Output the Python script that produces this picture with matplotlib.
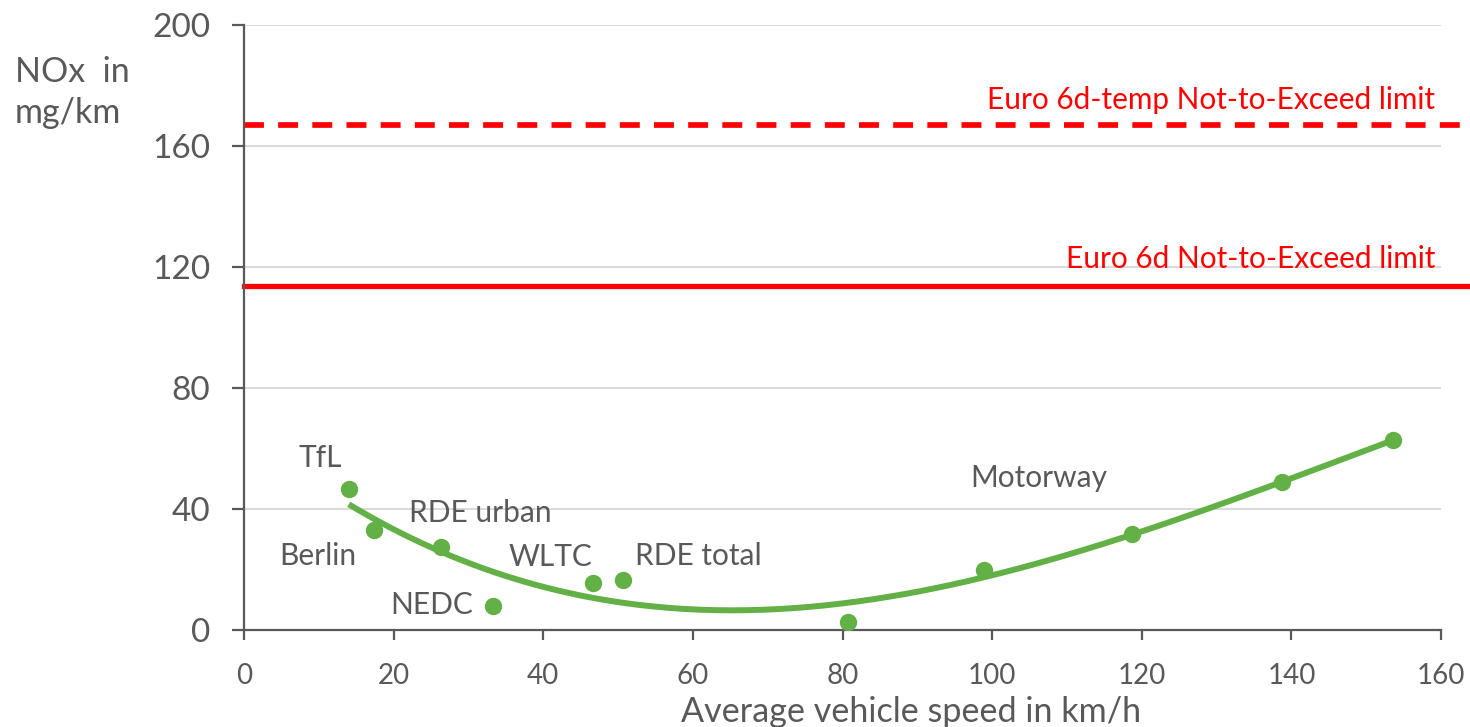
import matplotlib
matplotlib.use("Agg")
import matplotlib.pyplot as plt
import numpy as np

plt.rcParams['font.family'] = ['Lato', 'DejaVu Sans']

# measured cycles / trips: average speed (km/h) vs NOx (mg/km)
speed = [14.0, 17.4, 26.3, 33.3, 46.7, 50.7, 80.7, 98.9, 118.7, 138.8, 153.6]
nox = [46.6, 33.1, 27.4, 7.9, 15.5, 16.5, 2.6, 19.8, 31.7, 48.9, 62.8]

# named cycles
cycle_names = ['TfL', 'Berlin', 'RDE urban', 'NEDC', 'WLTC', 'RDE total', 'Motorway']

# regulatory limits
nte_temp = 167.0
nte_final = 113.8

x_ticks = [0, 20, 40, 60, 80, 100, 120, 140, 160]
y_ticks = [0, 40, 80, 120, 160, 200]

grey = '#595959'
green = '#62b046'
red = '#ff0000'

fig = plt.figure(figsize=(14.7, 7.27), dpi=100)
ax = fig.add_axes([0.166, 0.1334, 0.8143, 0.8322])
ax.set_xlim(0, 160)
ax.set_ylim(0, 200)

# gridlines
for yt in y_ticks[1:]:
    ax.axhline(yt, color='#d9d9d9', lw=1.4, zorder=0)

# limit lines run slightly past the end of the axis
ax.plot([0, 163.6], [nte_temp, nte_temp], color=red, lw=4.1, ls=(0, (3.5, 2.5)),
        clip_on=False, zorder=2)
ax.plot([0, 163.6], [nte_final, nte_final], color=red, lw=3.8, clip_on=False, zorder=2)
ax.text(159.2, nte_temp + 5.1, 'Euro 6d-temp Not-to-Exceed limit', color=red,
        fontsize=21.4, ha='right', va='baseline')
ax.text(159.2, nte_final + 5.8, 'Euro 6d Not-to-Exceed limit', color=red,
        fontsize=21.4, ha='right', va='baseline')

# polynomial trendline through the measurements
coef = np.polyfit(speed, nox, 3)
xs = np.linspace(min(speed), max(speed), 200)
ax.plot(xs, np.polyval(coef, xs), color=green, lw=4.3, solid_capstyle='butt', zorder=3)
ax.plot(speed, nox, 'o', color=green, ms=11.5, zorder=4)

label_pos = [(10.2, 57.0), (9.9, 24.5), (31.6, 38.8), (25.1, 8.3),
             (40.9, 24.1), (60.7, 24.5), (106.2, 50.2)]
for name, (tx, ty) in zip(cycle_names, label_pos):
    ax.text(tx, ty, name, color=grey, fontsize=21.5, ha='center', va='center')

# axes styling
for side in ['top', 'right']:
    ax.spines[side].set_visible(False)
for side in ['left', 'bottom']:
    ax.spines[side].set_color(grey)
    ax.spines[side].set_linewidth(1.6)
ax.set_xticks(x_ticks)
ax.set_yticks(y_ticks)
ax.tick_params(axis='y', colors=grey, labelcolor=grey, length=8.5, width=1.6,
               labelsize=24, pad=16)
ax.tick_params(axis='x', colors=grey, labelcolor=grey, length=7, width=1.6,
               labelsize=20, pad=17)

fig.text(0.0102, 0.901, 'NOx  in', color=grey, fontsize=24.5, ha='left', va='center')
fig.text(0.0102, 0.845, 'mg/km', color=grey, fontsize=24.5, ha='left', va='center')
fig.text(0.620, 0.0069, 'Average vehicle speed in km/h', color=grey, fontsize=24.6,
         ha='center', va='baseline')

fig.savefig('out.png', dpi=100)
